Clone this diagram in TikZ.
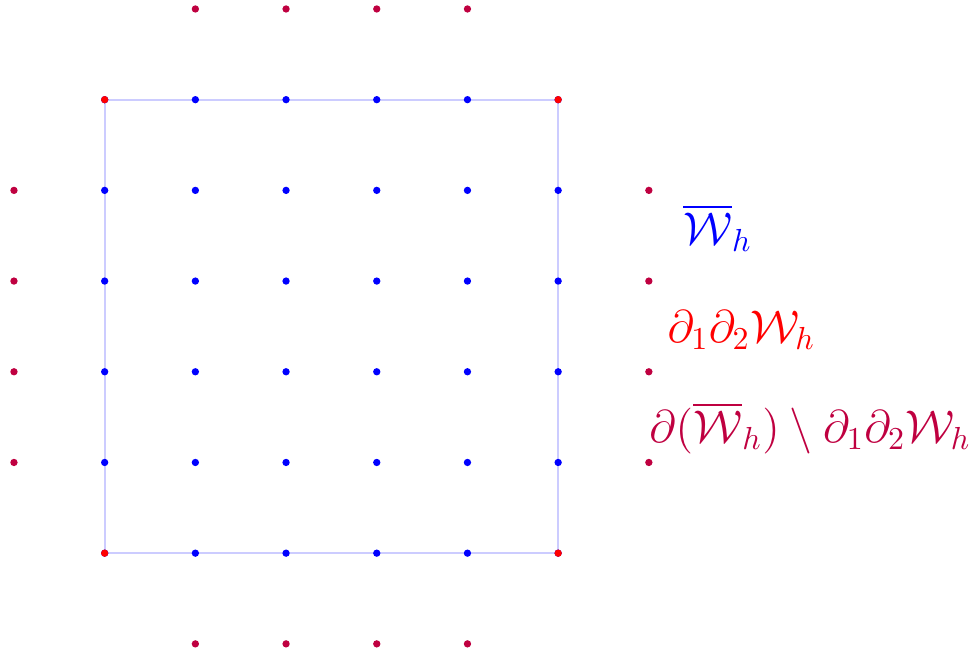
\documentclass[tikz,border=0pt]{standalone}
\usepackage{amsmath,amssymb}
\usepackage{tikz}
\usetikzlibrary{positioning}

\tikzset{
  gridpt/.style={circle,fill,inner sep=0pt,minimum size=2.3pt},
  lbl/.style={anchor=base west,inner sep=0pt,font=\Large},
}

\begin{document}
\begin{tikzpicture}
\useasboundingbox (-0.154,-0.122) rectangle (10.53,7.099);
% the domain
\draw[blue!20,line width=0.7pt] (1,1) rectangle (6,6);
% inner and edge points
\foreach \i in {1,...,6}
  \foreach \j in {1,...,6}
    \node[gridpt,blue] (w-\i-\j) at (\i,\j) {};
% corners
\foreach \i in {1,6}
  \foreach \j in {1,6}
    \node[gridpt,red] (c-\i-\j) at (\i,\j) {};
% outer boundary points
\foreach \k in {2,...,5} {
  \node[gridpt,purple] (l-\k) at (0,\k) {};
  \node[gridpt,purple] (r-\k) at (7,\k) {};
  \node[gridpt,purple] (b-\k) at (\k,0) {};
  \node[gridpt,purple] (t-\k) at (\k,7) {};
}
% legend
\node[lbl,blue] (lw) at (7.37,4.40) {$\overline{\mathcal{W}}_h$};
\node[lbl,red] (lc) at (7.2,3.32) {$\partial_1\partial_2\mathcal{W}_h$};
\node[lbl,purple] (lb) at (7.0,2.215) {$\partial(\overline{\mathcal{W}}_h)\setminus\partial_1\partial_2\mathcal{W}_h$};
\end{tikzpicture}
\end{document}
